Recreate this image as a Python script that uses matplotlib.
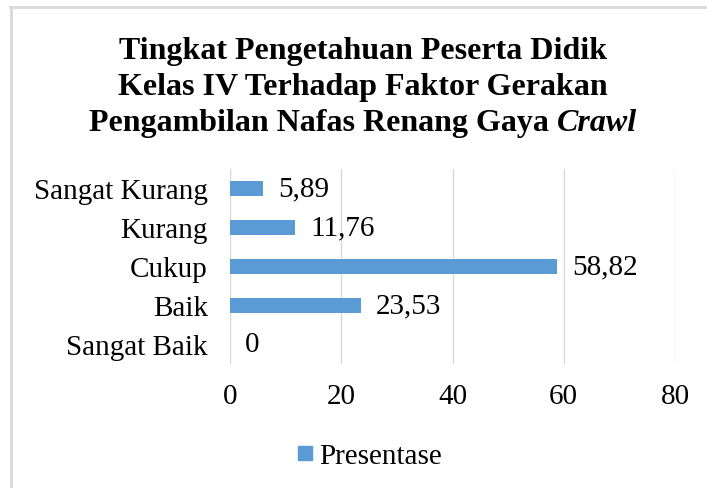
import matplotlib.pyplot as plt
from matplotlib.lines import Line2D

categories = ["Sangat Kurang", "Kurang", "Cukup", "Baik", "Sangat Baik"]
values = [5.89, 11.76, 58.82, 23.53, 0]
value_labels = ["5,89", "11,76", "58,82", "23,53", "0"]
x_ticks = [0, 20, 40, 60, 80]
series_name = "Presentase"

plt.rcParams['font.family'] = ['Liberation Serif', 'DejaVu Serif']
blue = '#5B9BD5'
W, H = 707, 489

fig = plt.figure(figsize=(W / 100, H / 100), dpi=100)
ax = fig.add_axes([230 / W, 1 - 365 / H, (675 - 230) / W, (365 - 170) / H])

ypos = list(range(len(categories)))
ax.barh(ypos, values, height=0.36, color=blue, zorder=3)
for y, v, lab in zip(ypos, values, value_labels):
    ax.annotate(lab, (v, y), xytext=(11, 0), textcoords='offset points',
                va='center', ha='left', fontsize=21, color='black')

ax.set_yticks(ypos)
ax.set_yticklabels(categories, fontsize=21)
ax.set_ylim(len(categories) - 0.5, -0.5)
ax.set_xlim(0, 80)
ax.set_xticks(x_ticks)
ax.set_xticklabels([str(t) for t in x_ticks], fontsize=21)
ax.tick_params(axis='y', length=0, pad=16)
ax.tick_params(axis='x', length=0, pad=14)
ax.grid(axis='x', color='#D9D9D9', linewidth=1, zorder=0)
for s in ax.spines.values():
    s.set_visible(False)

# title, last word in italic
fs_title = 23
cx = 363
fig.text(cx / W, 1 - 52 / H, "Tingkat Pengetahuan Peserta Didik", ha='center', va='center',
         fontsize=fs_title, fontweight='bold')
fig.text(cx / W, 1 - 88 / H, "Kelas IV Terhadap Faktor Gerakan", ha='center', va='center',
         fontsize=fs_title, fontweight='bold')
r = fig.canvas.get_renderer()
ta = fig.text(0, 1 - 124 / H, "Pengambilan Nafas Renang Gaya ", ha='left', va='center',
              fontsize=fs_title, fontweight='bold')
tb = fig.text(0, 1 - 124 / H, "Crawl", ha='left', va='center',
              fontsize=fs_title, fontweight='bold', style='italic')
wa = ta.get_window_extent(r).width
wb = tb.get_window_extent(r).width
x0 = cx - (wa + wb) / 2
ta.set_x(x0 / W)
tb.set_x((x0 + wa) / W)

handle = Line2D([], [], marker='s', linestyle='', color=blue, markersize=10)
fig.legend([handle], [series_name], loc='center', bbox_to_anchor=(369 / W, 1 - 457 / H),
           frameon=False, fontsize=21, handlelength=0.6, handletextpad=0.2,
           borderaxespad=0)

# light frame on left and top
fig.add_artist(Line2D([11 / W, 11 / W], [0, 1 - 8 / H], color='#D9D9D9', linewidth=2,
                      transform=fig.transFigure))
fig.add_artist(Line2D([10 / W, 1], [1 - 8 / H, 1 - 8 / H], color='#D9D9D9', linewidth=2,
                      transform=fig.transFigure))

fig.savefig('out.png', dpi=100)
